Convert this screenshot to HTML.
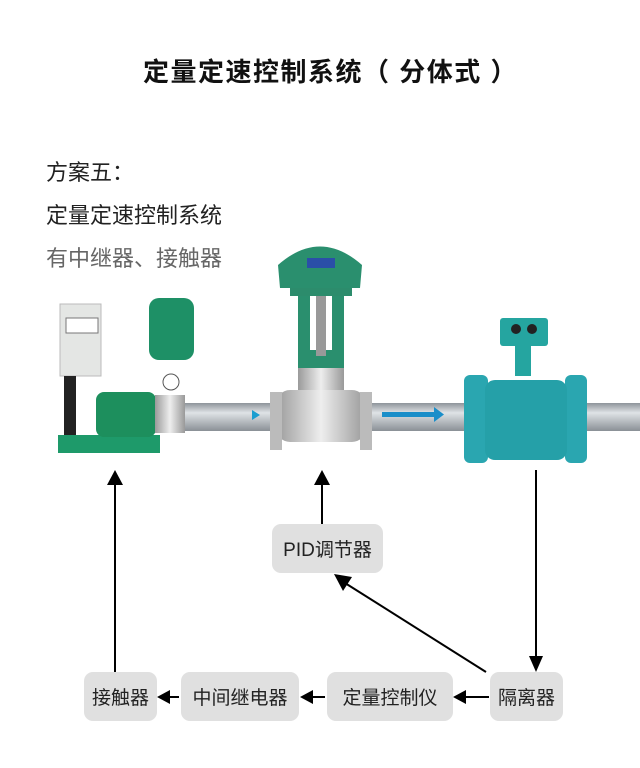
<!DOCTYPE html>
<html><head><meta charset="utf-8"><style>
body{margin:0;width:640px;height:768px;background:#fff;position:relative;overflow:hidden;font-family:"Liberation Sans","Noto Sans CJK SC",sans-serif}
.t{position:absolute;white-space:nowrap}
.b{position:absolute;background:#e0e0e0;border-radius:9px;font-size:19px;color:#222;display:flex;align-items:center;justify-content:center;height:49px;top:672px}
</style></head><body>
<div class="t" style="left:143px;top:52px;font-size:26px;font-weight:bold;color:#111;letter-spacing:1.5px">定量定速控制系统（ 分体式 ）</div>
<div class="t" style="left:46px;top:155px;font-size:22px;color:#222">方案五：</div>
<div class="t" style="left:46px;top:198px;font-size:22px;color:#222">定量定速控制系统</div>
<div class="t" style="left:46px;top:241px;font-size:22px;color:#666">有中继器、接触器</div>
<svg width="640" height="768" style="position:absolute;left:0;top:0">
<defs><linearGradient id="p" x1="0" y1="0" x2="0" y2="1"><stop offset="0" stop-color="#8e949a"/><stop offset=".35" stop-color="#dfe3e6"/><stop offset="1" stop-color="#8a9096"/></linearGradient>
<linearGradient id="s" x1="0" y1="0" x2="1" y2="0"><stop offset="0" stop-color="#9a9a9a"/><stop offset=".5" stop-color="#eee"/><stop offset="1" stop-color="#999"/></linearGradient></defs>
<rect x="150" y="403" width="490" height="28" fill="url(#p)"/>
<rect x="60" y="304" width="41" height="72" fill="#e4e6e4" stroke="#bbb"/>
<rect x="66" y="318" width="32" height="15" fill="#fff" stroke="#777"/>
<rect x="64" y="376" width="12" height="60" fill="#222"/>
<rect x="58" y="435" width="102" height="18" fill="#1e9a6a"/>
<rect x="96" y="392" width="60" height="45" rx="8" fill="#1d8f5d"/>
<rect x="155" y="395" width="30" height="38" fill="url(#s)"/>
<rect x="149" y="298" width="45" height="62" rx="10" fill="#1e9066"/>
<circle cx="171" cy="382" r="8" fill="#fff" stroke="#555"/>
<path d="M278 265 Q320 228 362 265 L360 288 L280 288Z" fill="#2a8f6e"/>
<rect x="307" y="258" width="28" height="10" fill="#2a4fa8"/>
<rect x="290" y="288" width="62" height="8" fill="#2c8c6c"/>
<rect x="298" y="296" width="12" height="60" fill="#2a8f6e"/><rect x="332" y="296" width="12" height="60" fill="#2a8f6e"/>
<rect x="298" y="350" width="46" height="18" fill="#2a8f6e"/>
<rect x="316" y="296" width="10" height="60" fill="#999"/>
<rect x="298" y="368" width="46" height="25" fill="url(#s)"/>
<rect x="276" y="390" width="90" height="52" rx="14" fill="url(#s)"/>
<rect x="270" y="392" width="12" height="58" fill="#bbb"/><rect x="360" y="392" width="12" height="58" fill="#bbb"/>
<polygon points="252,410 260,415 252,420" fill="#1a9ed0"/>
<rect x="382" y="412" width="54" height="5" fill="#1a8ec9"/><polygon points="434,407 444,414.5 434,422" fill="#1a8ec9"/>
<rect x="500" y="318" width="48" height="28" rx="3" fill="#25a5a0"/>
<circle cx="516" cy="329" r="5" fill="#222"/><circle cx="532" cy="329" r="5" fill="#222"/>
<rect x="515" y="346" width="16" height="30" fill="#25a5a0"/>
<rect x="464" y="375" width="24" height="88" rx="6" fill="#2aa6b0"/>
<rect x="565" y="375" width="22" height="88" rx="6" fill="#2aa6b0"/>
<rect x="485" y="380" width="82" height="80" rx="10" fill="#25a0a8"/>
<g stroke="#000" stroke-width="2" fill="none">
<line x1="115" y1="484" x2="115" y2="672"/>
<line x1="322" y1="484" x2="322" y2="524"/>
<line x1="536" y1="470" x2="536" y2="658"/>
<line x1="486" y1="672" x2="345" y2="583"/>
<line x1="179" y1="697" x2="168" y2="697"/>
<line x1="325" y1="697" x2="312" y2="697"/>
<line x1="489" y1="697" x2="466" y2="697"/>
</g>
<g fill="#000">
<polygon points="115,470 107,485 123,485"/>
<polygon points="322,470 314,485 330,485"/>
<polygon points="536,672 529,656 543,656"/>
<polygon points="334,574 352,577 343,591"/>
<polygon points="157,697 170,690 170,704"/>
<polygon points="300,697 313,690 313,704"/>
<polygon points="453,697 466,690 466,704"/>
</g>
</svg>
<div class="b" style="left:272px;top:524px;width:111px">PID调节器</div>
<div class="b" style="left:84px;width:73px">接触器</div>
<div class="b" style="left:181px;width:118px">中间继电器</div>
<div class="b" style="left:327px;width:126px">定量控制仪</div>
<div class="b" style="left:490px;width:73px">隔离器</div>
</body></html>
